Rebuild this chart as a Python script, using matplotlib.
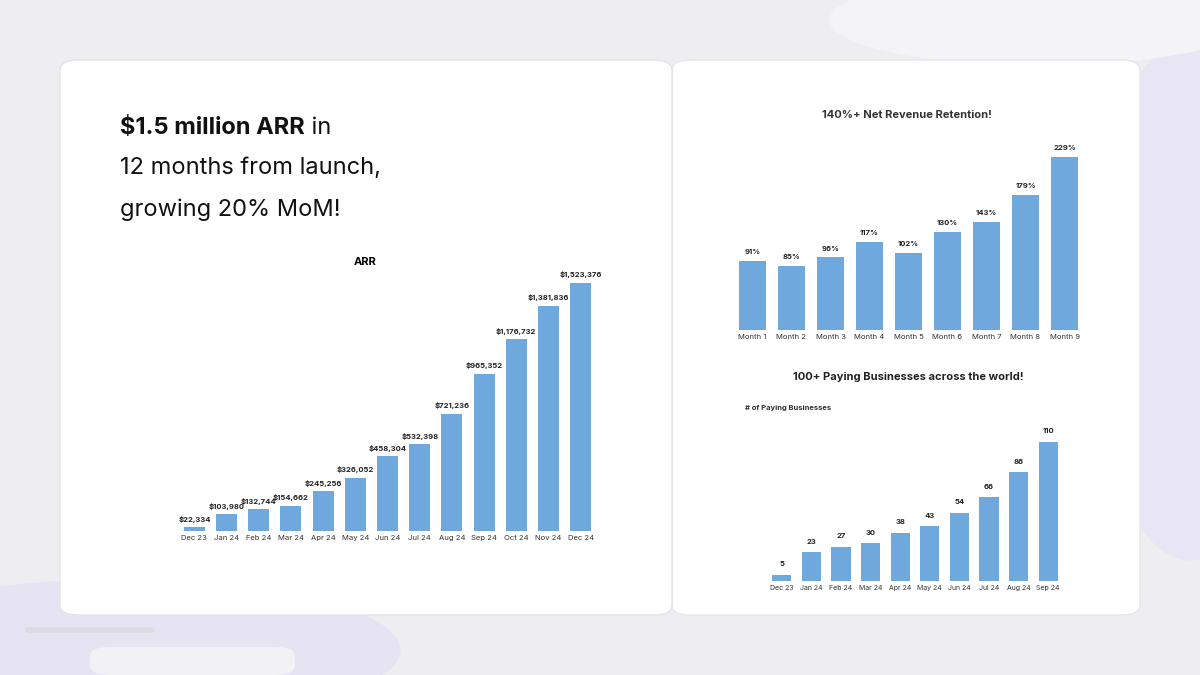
import matplotlib
matplotlib.use("Agg")
import matplotlib.pyplot as plt
from matplotlib.patches import FancyBboxPatch, Ellipse

arr_months = ["Dec 23","Jan 24","Feb 24","Mar 24","Apr 24","May 24","Jun 24","Jul 24","Aug 24","Sep 24","Oct 24","Nov 24","Dec 24"]
arr_values = [22334,103980,132744,154662,245256,326052,458304,532398,721236,965352,1176732,1381836,1523376]
nrr_labels = ["Month 1","Month 2","Month 3","Month 4","Month 5","Month 6","Month 7","Month 8","Month 9"]
nrr_values = [91,85,96,117,102,130,143,179,229]
biz_months = ["Dec 23","Jan 24","Feb 24","Mar 24","Apr 24","May 24","Jun 24","Jul 24","Aug 24","Sep 24"]
biz_values = [5,23,27,30,38,43,54,66,86,110]

BAR = "#6fa8dc"
plt.rcParams['font.family'] = ['Inter', 'DejaVu Sans']
fig = plt.figure(figsize=(12, 6.75), dpi=100)
fig.patch.set_facecolor("#eeeef0")
W, H = 1200, 675
def fx(x): return x / W
def fy(y): return 1 - y / H

# soft background shapes
for (cx, cy, w, h, c) in [(120, 650, 560, 140, "#e6e3f2"), (1190, 300, 200, 520, "#e8e6f4"), (1040, 20, 420, 90, "#f4f4f6")]:
    fig.patches.append(Ellipse((fx(cx), fy(cy)), fx(w), h / H, transform=fig.transFigure, color=c, zorder=0))
fig.patches.append(FancyBboxPatch((fx(90), fy(675)), fx(205), 28 / H, boxstyle="round,pad=0,rounding_size=0.015",
                                  transform=fig.transFigure, fc="#f2f2f5", ec="none", zorder=0))
fig.patches.append(FancyBboxPatch((fx(25), fy(633)), fx(130), 6 / H, boxstyle="round,pad=0,rounding_size=0.004",
                                  transform=fig.transFigure, fc="#dcdce2", ec="none", zorder=0))
# cards
fig.patches.append(FancyBboxPatch((fx(672), fy(615)), fx(468), 555 / H, boxstyle="round,pad=0,rounding_size=0.015",
                                  transform=fig.transFigure, fc="white", ec="#e6e6ea", zorder=1))
fig.patches.append(FancyBboxPatch((fx(60), fy(615)), fx(612), 555 / H, boxstyle="round,pad=0,rounding_size=0.015",
                                  transform=fig.transFigure, fc="white", ec="#e3e3e8", zorder=2))

# headline
t1 = fig.text(fx(120), fy(128), "$1.5 million ARR", fontsize=17, fontweight="bold", va="center", color="#111", zorder=5)
fig.canvas.draw()
bb = t1.get_window_extent(fig.canvas.get_renderer())
fig.text(bb.x1 / W, fy(128), " in", fontsize=17, va="center", color="#111", zorder=5)
fig.text(fx(120), fy(168), "12 months from launch,", fontsize=17, va="center", color="#111", zorder=5)
fig.text(fx(120), fy(210), "growing 20% MoM!", fontsize=17, va="center", color="#111", zorder=5)

def style(ax):
    ax.set_facecolor("none")
    for s in ax.spines.values():
        s.set_visible(False)
    ax.set_yticks([])
    ax.tick_params(axis="x", length=0, labelsize=5.5, pad=3, labelcolor="#333")
    ax.set_zorder(5)

# ARR
ax1 = fig.add_axes([fx(175), fy(531), fx(600 - 175), (531 - 270) / H])
ax1.bar(arr_months, arr_values, width=0.65, color=BAR)
ax1.set_ylim(0, 1603000)
ax1.set_xlim(-0.6, len(arr_values) - 0.4)
style(ax1)
for i, v in enumerate(arr_values):
    ax1.annotate(f"${v:,}", (i, v), xytext=(0, 4), textcoords="offset points", ha="center", fontsize=5.5, fontweight="bold", color="#222")
fig.text(fx(365), fy(262), "ARR", fontsize=8, fontweight="bold", ha="center", va="center", zorder=6)

# NRR
ax2 = fig.add_axes([fx(733), fy(330), fx(1084 - 733), (330 - 140) / H])
ax2.bar(nrr_labels, nrr_values, width=0.68, color=BAR)
ax2.set_ylim(0, 251.5)
ax2.set_xlim(-0.5, len(nrr_values) - 0.5)
style(ax2)
for i, v in enumerate(nrr_values):
    ax2.annotate(f"{v}%", (i, v), xytext=(0, 5), textcoords="offset points", ha="center", fontsize=5.5, fontweight="bold", color="#222")
fig.text(fx(907), fy(115), "140%+ Net Revenue Retention!", fontsize=8, fontweight="bold", ha="center", va="center", color="#333", zorder=6)

# Businesses
ax3 = fig.add_axes([fx(767), fy(581), fx(1063 - 767), (581 - 420) / H])
ax3.bar(biz_months, biz_values, width=0.65, color=BAR)
ax3.set_ylim(0, 127)
ax3.set_xlim(-0.5, len(biz_values) - 0.5)
style(ax3)
ax3.tick_params(axis="x", labelsize=5)
for i, v in enumerate(biz_values):
    ax3.annotate(f"{v}", (i, v), xytext=(0, 6), textcoords="offset points", ha="center", fontsize=5.5, fontweight="bold", color="#222")
fig.text(fx(908), fy(377), "100+ Paying Businesses across the world!", fontsize=8, fontweight="bold", ha="center", va="center", color="#222", zorder=6)
fig.text(fx(745), fy(408), "# of Paying Businesses", fontsize=5.5, fontweight="bold", ha="left", va="center", color="#333", zorder=6)

fig.savefig("out.png", dpi=100, facecolor=fig.get_facecolor())
